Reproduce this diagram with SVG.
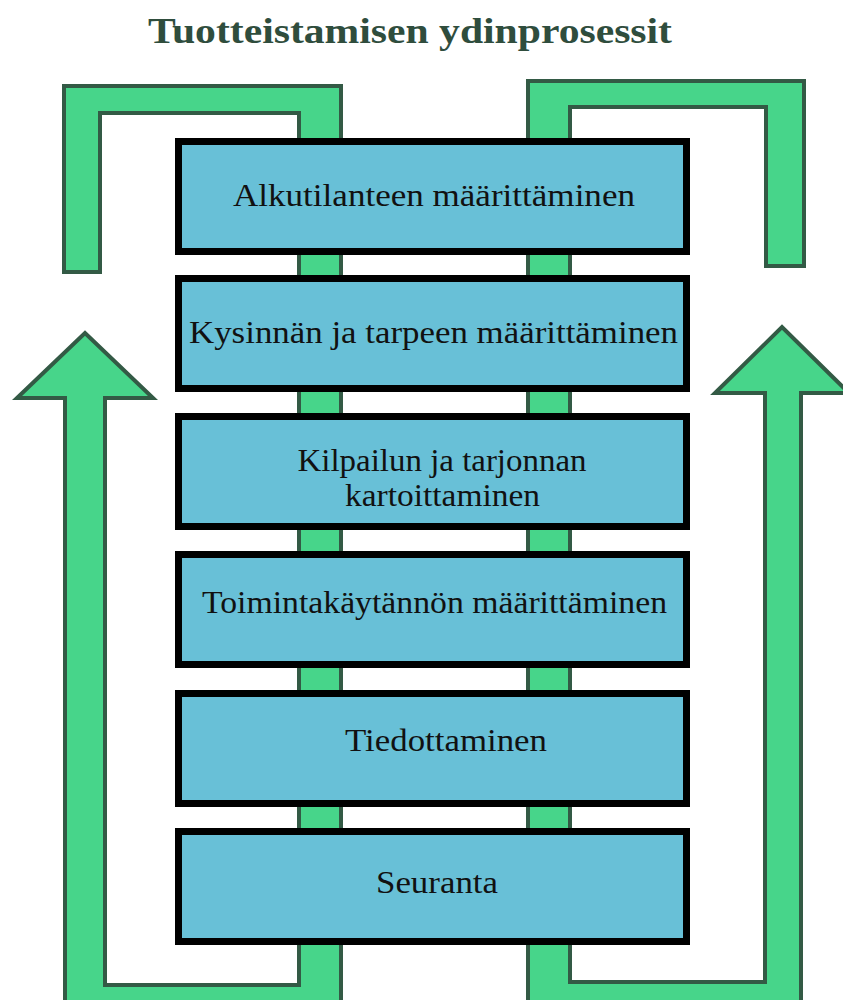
<svg xmlns="http://www.w3.org/2000/svg" width="843" height="1000" viewBox="0 0 843 1000">
<style>
.band{fill:#47d58a;stroke:#335a45;stroke-width:4;stroke-linejoin:miter}
.box{fill:#68c0d7;stroke:#000;stroke-width:7}
.lbl{font-family:"Liberation Serif","Times New Roman",serif;font-size:31px;fill:#111;text-anchor:middle}
.title{font-family:"Liberation Serif","Times New Roman",serif;font-size:35px;font-weight:bold;fill:#2f4d3d;text-anchor:middle}
</style>
<rect width="843" height="1000" fill="#fff"/>
<text class="title" x="410" y="43" textLength="524" lengthAdjust="spacingAndGlyphs">Tuotteistamisen ydinprosessit</text>
<g id="connectors">
<polygon id="left-loop" class="band" points="64,272 64,86 341,86 341,1010 65,1010 65,398 17,398 85,333 153,398 105,398 105,985 299,985 299,113 100,113 100,272"/>
<polygon id="right-loop" class="band" points="528,1010 528,81 804,81 804,266 766,266 766,107 570,107 570,982 765,982 765,393 715,393 782,327 849,393 801,393 801,1010"/>
</g>
<g id="n1"><rect class="box" x="178.5" y="141.5" width="508" height="110"/><text class="lbl" x="434" y="206" textLength="402" lengthAdjust="spacingAndGlyphs">Alkutilanteen määrittäminen</text></g>
<g id="n2"><rect class="box" x="178.5" y="278.5" width="508" height="110"/><text class="lbl" x="433.5" y="343" textLength="489" lengthAdjust="spacingAndGlyphs">Kysinnän ja tarpeen määrittäminen</text></g>
<g id="n3"><rect class="box" x="178.5" y="416.5" width="508" height="110"/><text class="lbl" x="442" y="471" textLength="289" lengthAdjust="spacingAndGlyphs">Kilpailun ja tarjonnan</text><text class="lbl" x="442.5" y="506" textLength="195" lengthAdjust="spacingAndGlyphs">kartoittaminen</text></g>
<g id="n4"><rect class="box" x="178.5" y="554.5" width="508" height="110"/><text class="lbl" x="434.5" y="613" textLength="465" lengthAdjust="spacingAndGlyphs">Toimintakäytännön määrittäminen</text></g>
<g id="n5"><rect class="box" x="178.5" y="693.5" width="508" height="110"/><text class="lbl" x="446" y="751" textLength="202" lengthAdjust="spacingAndGlyphs">Tiedottaminen</text></g>
<g id="n6"><rect class="box" x="178.5" y="831.5" width="508" height="110"/><text class="lbl" x="437" y="893" textLength="122" lengthAdjust="spacingAndGlyphs">Seuranta</text></g>
</svg>
